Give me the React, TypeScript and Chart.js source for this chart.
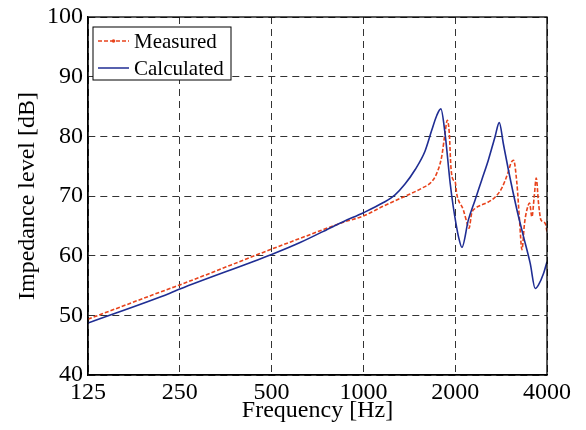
import React, { useEffect, useRef } from "react";
import { Chart, registerables } from "chart.js";

Chart.register(...registerables);

const xTicks = [125, 250, 500, 1000, 2000, 4000];
const yTicks = [40, 50, 60, 70, 80, 90, 100];

const measuredFreq = [125, 232, 250, 500, 620, 797, 859, 1000, 1163, 1270, 1404, 1553, 1675, 1740, 1806, 1852, 1884, 1913, 1936, 1971, 2000, 2021, 2126, 2198, 2220, 2265, 2323, 2444, 2568, 2701, 2842, 2988, 3046, 3106, 3187, 3250, 3310, 3375, 3437, 3506, 3570, 3632, 3688, 3752, 3821, 3948, 4000];
const measuredDb = [49.35, 54.5, 55.1, 61.1, 62.9, 65.0, 65.6, 66.65, 68.3, 69.2, 70.2, 71.3, 72.4, 73.8, 76.6, 80.5, 82.7, 80.5, 74.9, 72.7, 72.4, 70.5, 67.7, 65.1, 64.6, 67.1, 67.9, 68.5, 69.0, 69.8, 71.3, 74.1, 75.5, 76.0, 72.1, 66.0, 61.0, 65.4, 67.7, 68.8, 66.5, 69.9, 73.0, 68.8, 66.0, 65.4, 64.0];

const calculatedFreq = [125, 232, 250, 500, 620, 797, 859, 1000, 1163, 1270, 1369, 1477, 1592, 1675, 1740, 1795, 1852, 1926, 1971, 2010, 2050, 2104, 2209, 2323, 2444, 2568, 2701, 2790, 2876, 2988, 3187, 3350, 3524, 3660, 3752, 3896, 4000];
const calculatedDb = [48.7, 53.7, 54.4, 60.2, 62.2, 64.9, 65.7, 67.2, 68.9, 70.2, 72.0, 74.4, 77.5, 81.0, 83.5, 84.6, 80.5, 72.1, 68.2, 65.5, 63.2, 61.4, 66.0, 69.3, 72.7, 76.0, 79.9, 82.3, 78.8, 74.4, 67.7, 63.2, 58.7, 54.5, 55.1, 57.0, 59.0];

const seriesNames = ["Measured", "Calculated"];
const RED = "#e8431c";
const BLUE = "#1f2d93";
const FONT = '"Liberation Serif", "Times New Roman", serif';

export default function App() {
  const ref = useRef<HTMLCanvasElement>(null);

  useEffect(() => {
    if (!ref.current) return;

    const framePlugin = {
      id: "frameAndLegend",
      afterDatasetsDraw(chart: any) {
        const { ctx, chartArea } = chart;
        const { left, top, right, bottom } = chartArea;
        ctx.save();
        ctx.strokeStyle = "#000";
        ctx.lineWidth = 1.3;
        ctx.setLineDash([]);
        ctx.strokeRect(left, top, right - left, bottom - top);

        const bx = left + 5;
        const by = top + 10;
        const bw = 138;
        const bh = 53;
        ctx.fillStyle = "#fff";
        ctx.fillRect(bx, by, bw, bh);
        ctx.lineWidth = 1;
        ctx.strokeRect(bx, by, bw, bh);

        const rows = [by + 14, by + 41];
        const x1 = bx + 5;
        const x2 = bx + 36;
        ctx.strokeStyle = RED;
        ctx.lineWidth = 1.5;
        ctx.setLineDash([4, 2]);
        ctx.beginPath();
        ctx.moveTo(x1, rows[0]);
        ctx.lineTo(x2, rows[0]);
        ctx.stroke();
        ctx.setLineDash([]);
        ctx.fillStyle = RED;
        ctx.beginPath();
        ctx.arc((x1 + x2) / 2, rows[0], 1.8, 0, Math.PI * 2);
        ctx.fill();
        ctx.strokeStyle = BLUE;
        ctx.lineWidth = 1.5;
        ctx.beginPath();
        ctx.moveTo(x1, rows[1]);
        ctx.lineTo(x2, rows[1]);
        ctx.stroke();

        ctx.fillStyle = "#000";
        ctx.font = `21px ${FONT}`;
        ctx.textBaseline = "middle";
        ctx.textAlign = "left";
        ctx.fillText(seriesNames[0], x2 + 5, rows[0] + 1);
        ctx.fillText(seriesNames[1], x2 + 5, rows[1] + 1);
        ctx.restore();
      },
    };

    const chart = new Chart(ref.current, {
      type: "line",
      data: {
        datasets: [
          {
            label: seriesNames[0],
            data: measuredFreq.map((f, i) => ({ x: f, y: measuredDb[i] })),
            borderColor: RED,
            backgroundColor: RED,
            borderWidth: 1.6,
            borderDash: [4, 2],
            pointRadius: 0,
            cubicInterpolationMode: "monotone",
            order: 2,
          },
          {
            label: seriesNames[1],
            data: calculatedFreq.map((f, i) => ({ x: f, y: calculatedDb[i] })),
            borderColor: BLUE,
            backgroundColor: BLUE,
            borderWidth: 1.6,
            pointRadius: 0,
            cubicInterpolationMode: "monotone",
            order: 1,
          },
        ],
      },
      options: {
        animation: false,
        responsive: false,
        maintainAspectRatio: false,
        layout: { padding: { top: 17, right: 39, left: 0, bottom: 0 } },
        plugins: {
          legend: { display: false },
          tooltip: { enabled: false },
        },
        scales: {
          x: {
            type: "logarithmic",
            min: 125,
            max: 4000,
            afterBuildTicks: (s: any) => {
              s.ticks = xTicks.map((v) => ({ value: v }));
            },
            afterFit: (s: any) => {
              s.height = 55;
            },
            grid: { color: "#333", lineWidth: 1, drawTicks: false },
            border: { display: true, color: "#000", width: 1.3, dash: [7, 5] },
            ticks: {
              color: "#000",
              font: { family: FONT, size: 24, lineHeight: 1.0 },
              padding: 6,
              maxRotation: 0,
              autoSkip: false,
              callback: (v: any) => String(v),
            },
            title: {
              display: true,
              text: "Frequency [Hz]",
              color: "#000",
              font: { family: FONT, size: 24, lineHeight: 1.0 },
              padding: { top: 0, bottom: 7 },
            },
          },
          y: {
            type: "linear",
            min: 40,
            max: 100,
            afterBuildTicks: (s: any) => {
              s.ticks = yTicks.map((v) => ({ value: v }));
            },
            afterFit: (s: any) => {
              s.width = 88;
            },
            grid: { color: "#333", lineWidth: 1, drawTicks: false },
            border: { display: true, color: "#000", width: 1.3, dash: [7, 5] },
            ticks: {
              color: "#000",
              font: { family: FONT, size: 24, lineHeight: 1.0 },
              padding: 5,
              callback: (v: any) => String(v),
            },
            title: {
              display: true,
              text: "Impedance level [dB]",
              color: "#000",
              font: { family: FONT, size: 24, lineHeight: 1.0 },
              padding: { top: 16, bottom: 0 },
            },
          },
        },
      },
      plugins: [framePlugin],
    } as any);

    return () => chart.destroy();
  }, []);

  return (
    <div style={{ position: "absolute", left: 0, top: 0, width: 586, height: 430, background: "#fff" }}>
      <canvas ref={ref} width={586} height={430} style={{ display: "block", width: 586, height: 430 }} />
    </div>
  );
}
